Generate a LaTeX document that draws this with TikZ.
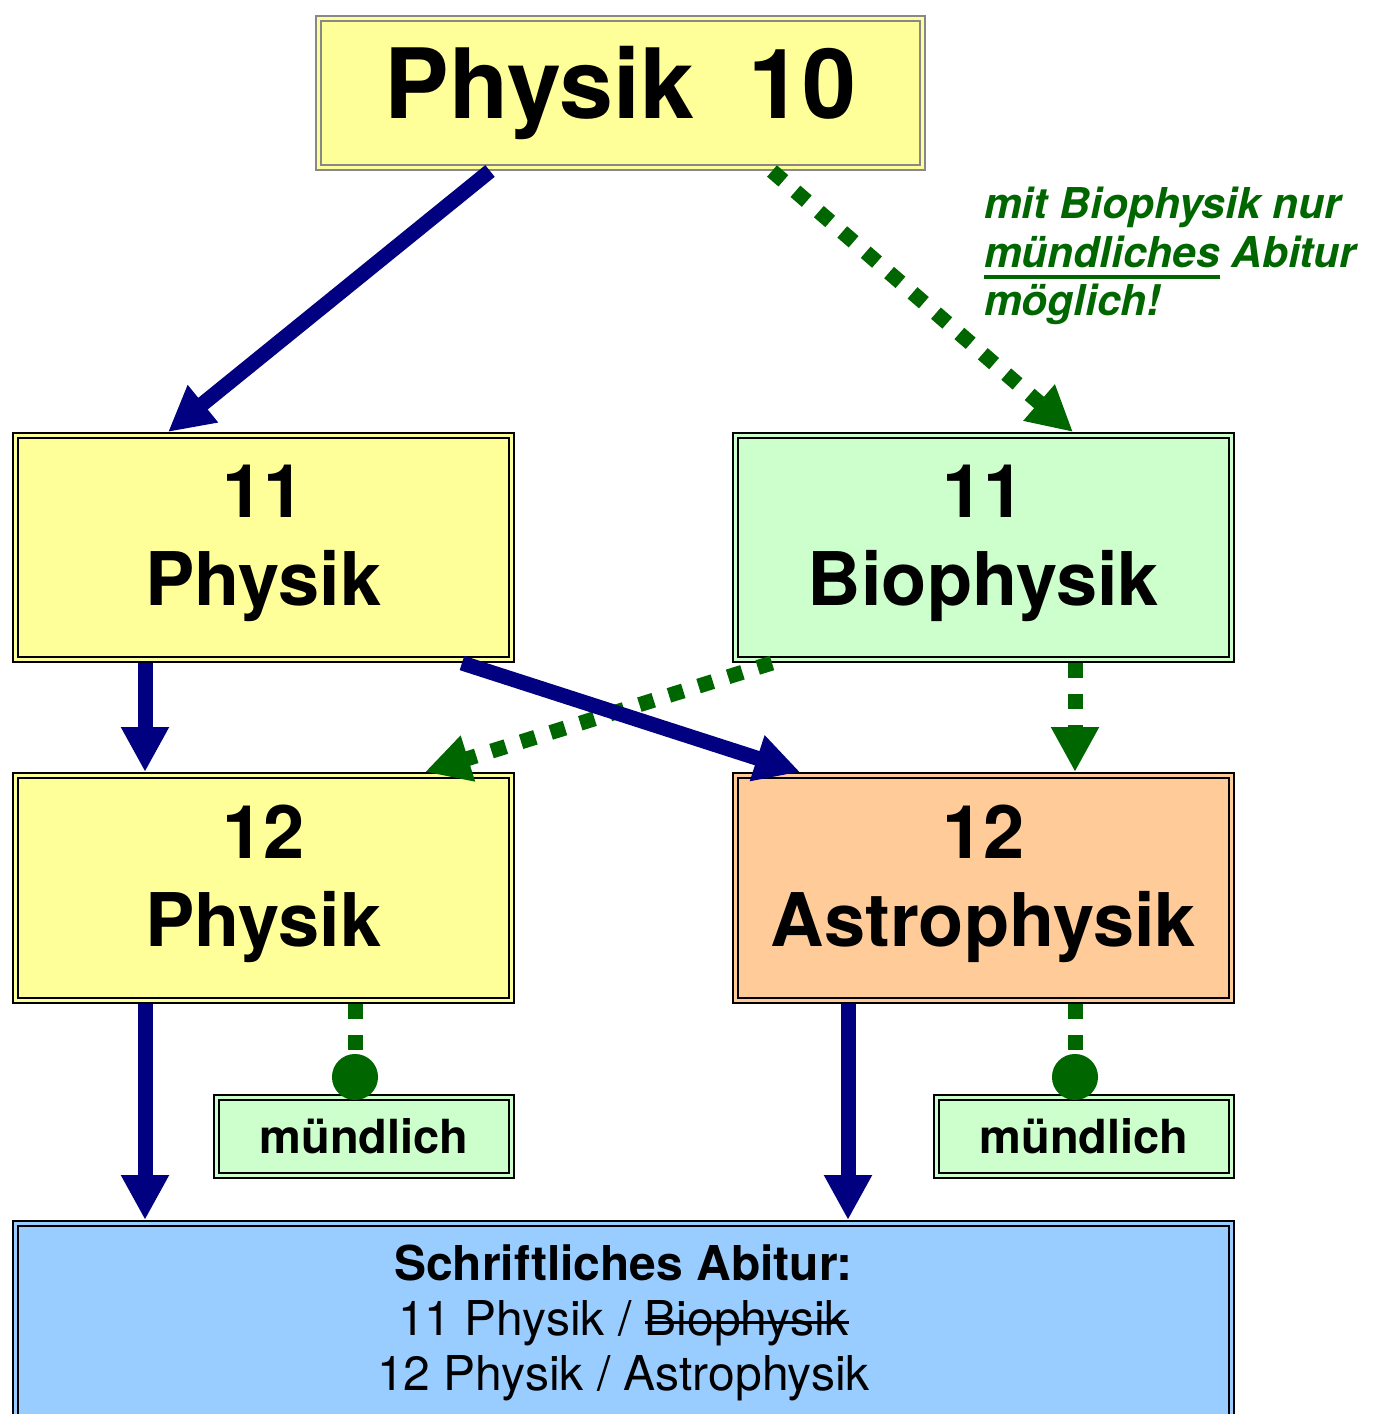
\documentclass[tikz,border=0pt]{standalone}
\usepackage{fontspec}
\setmainfont{TeX Gyre Heros}
\usetikzlibrary{arrows.meta}
\definecolor{navyc}{HTML}{000080}
\definecolor{greenc}{HTML}{006600}
\definecolor{yellowc}{HTML}{FFFF99}
\definecolor{lgreenc}{HTML}{CCFFCC}
\definecolor{orangec}{HTML}{FFCC99}
\definecolor{bluec}{HTML}{99CCFF}
\definecolor{grayc}{HTML}{888888}
\newsavebox\mylinebox
\newcommand\mystrike[1]{\sbox\mylinebox{#1}\rlap{\usebox\mylinebox}\rule[12pt]{\wd\mylinebox}{3pt}}
\newcommand\myunder[1]{\sbox\mylinebox{#1}\rlap{\usebox\mylinebox}\rule[-12pt]{\wd\mylinebox}{4pt}}
\newcommand\mydepth{\rule[-25pt]{0pt}{0pt}}
\begin{document}
\begin{tikzpicture}[x=1pt,y=-1pt,
  box/.style={draw=black, fill=#1, double=#1, line width=2pt, double distance=3pt,
    outer sep=3.5pt, inner sep=0pt, align=center},
  bigbox/.style={box=#1, minimum width=496pt, minimum height=224pt,
    font=\fontsize{74}{88}\selectfont\bfseries},
  smallbox/.style={box=#1, minimum width=295pt, minimum height=78pt,
    font=\fontsize{47}{56}\selectfont\bfseries},
  navyarrow/.style={draw=navyc, line width=15pt, -{Triangle[width=45pt,length=45pt]}},
  greenarrow/.style={draw=greenc, line width=15pt, dash pattern=on 15pt off 16pt,
    -{Triangle[width=45pt,length=45pt]}},
  greendot/.style={draw=greenc, line width=15pt, dash pattern=on 15pt off 16pt,
    -{Circle[length=46pt]}}
]
\clip (0,0) rectangle (1375,1414);
\fill[white] (0,0) rectangle (1375,1414);

% nodes
\node[box=yellowc, draw=grayc, minimum width=604pt, minimum height=149pt,
  font=\fontsize{97}{110}\selectfont\bfseries] (p10) at (620.5,93) {Physik\ \ 10};
\node[bigbox=yellowc] (p11) at (263.5,547.5) {11\\Physik\mydepth};
\node[bigbox=lgreenc] (b11) at (983.5,547.5) {11\\Biophysik\mydepth};
\node[bigbox=yellowc, minimum height=225pt] (p12) at (263.5,888) {12\\Physik\mydepth};
\node[bigbox=orangec, minimum height=225pt] (a12) at (983.5,888) {12\\Astrophysik\mydepth};
\node[smallbox=lgreenc] (m1) at (364,1136.5) {mündlich};
\node[smallbox=lgreenc] (m2) at (1084,1136.5) {mündlich};
\node[box=bluec, minimum width=1216pt, minimum height=199pt,
  font=\fontsize{48}{55}\selectfont] (abi) at (623.5,1323)
  {\textbf{Schriftliches Abitur:}\\
   11 Physik / \mystrike{Biophysik}\\
   12 Physik / Astrophysik};
\node[anchor=north west, inner sep=0pt, align=left, text=greenc,
  font=\fontsize{42.5}{48.5}\selectfont\bfseries\itshape] (note) at (984,187)
  {mit Biophysik nur\\
   \myunder{mündliches} Abitur\\
   möglich!};

% connectors
\draw[navyarrow] ([xshift=-130.5pt]p10.south) -- ([xshift=-95.5pt]p11.north);
\draw[greenarrow] ([xshift=151.5pt]p10.south) -- ([xshift=89.5pt]b11.north);
\draw[navyarrow] ([xshift=-118.5pt]p11.south) -- ([xshift=-118.5pt]p12.north);
\draw[greenarrow] ([xshift=-211.5pt]b11.south) -- ([xshift=161.5pt]p12.north);
\draw[navyarrow] ([xshift=198.5pt]p11.south) -- ([xshift=-183.5pt]a12.north);
\draw[greenarrow] ([xshift=91.5pt]b11.south) -- ([xshift=91.5pt]a12.north);
\draw[navyarrow] ([xshift=-118.5pt]p12.south) -- ([xshift=-478.5pt]abi.north);
\draw[navyarrow] ([xshift=-135.5pt]a12.south) -- ([xshift=224.5pt]abi.north);
\draw[greendot] ([xshift=91.5pt]p12.south) -- ([xshift=-9pt,yshift=-6pt]m1.north);
\draw[greendot] ([xshift=91.5pt]a12.south) -- ([xshift=-9pt,yshift=-6pt]m2.north);
\end{tikzpicture}
\end{document}
